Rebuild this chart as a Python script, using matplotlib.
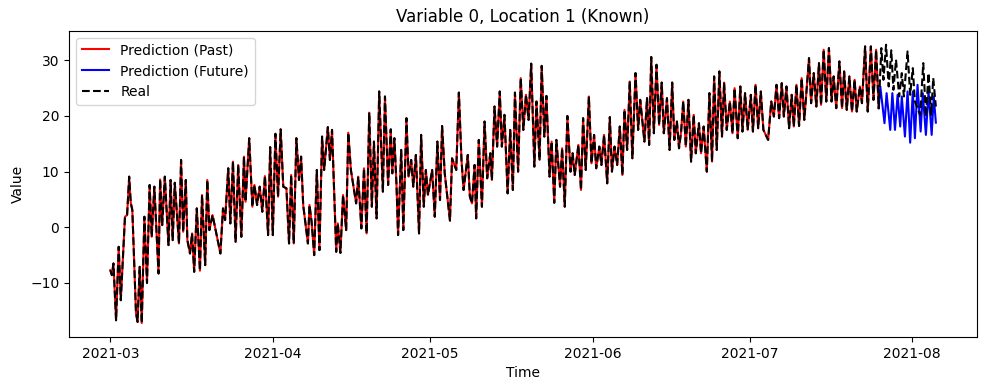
import numpy as np
import pandas as pd
import matplotlib
matplotlib.use("Agg")
import matplotlib.pyplot as plt

start_date = "2021-03-01"

# Real series: time offsets (days since start) and values
real_days = [
    0.0, 0.3, 0.6, 1.1, 1.6, 2.0, 2.8, 3.2, 3.6, 3.9, 4.2, 4.9, 5.2, 5.6, 6.0, 6.5, 7.0, 7.5, 7.9, 8.4,
    9.2, 9.5, 9.9, 10.4, 11.1, 11.5, 11.9, 12.3, 13.1, 13.5, 13.9, 14.4, 14.7, 15.2, 15.6, 16.0, 16.5, 17.1, 17.5, 18.1,
    18.5, 18.9, 19.5, 19.9, 21.0, 21.5, 21.9, 22.5, 22.9, 23.4, 23.9, 24.4, 25.0, 25.5, 25.8, 26.5, 27.1, 27.5, 28.0, 28.5,
    29.0, 29.5, 30.1, 30.5, 31.0, 31.5, 32.0, 32.5, 33.0, 33.6, 34.1, 34.5, 35.0, 35.5, 36.0, 36.4, 36.8, 37.7, 38.0, 38.4,
    38.9, 39.4, 39.9, 40.4, 40.8, 41.5, 41.9, 42.3, 43.1, 43.4, 43.9, 44.4, 45.0, 45.4, 45.9, 46.9, 47.3, 47.9, 48.4, 48.9,
    49.4, 49.9, 50.3, 50.8, 51.3, 52.0, 52.4, 53.0, 53.5, 53.8, 54.2, 54.6, 54.9, 55.5, 55.9, 56.5, 56.9, 57.4, 57.8, 58.3,
    58.9, 59.3, 59.8, 60.2, 60.6, 61.4, 61.9, 62.4, 62.9, 63.3, 63.8, 64.8, 65.2, 66.0, 66.5, 67.0, 67.4, 68.2, 68.6, 69.0,
    69.5, 69.8, 70.3, 70.9, 71.4, 71.9, 72.5, 72.8, 73.3, 73.8, 74.3, 74.7, 75.2, 75.8, 76.3, 76.8, 77.2, 77.8, 78.3, 78.8,
    79.3, 79.8, 80.3, 80.9, 81.3, 81.9, 82.3, 82.8, 83.2, 83.8, 84.2, 84.7, 85.1, 85.8, 86.2, 86.7, 87.2, 87.8, 88.2, 88.6,
    89.3, 89.8, 90.2, 90.7, 91.3, 91.8, 92.3, 92.7, 93.3, 93.7, 94.2, 94.8, 95.3, 95.7, 96.2, 96.7, 97.2, 97.7, 98.1, 98.6,
    99.1, 99.6, 100.2, 100.7, 101.1, 101.9, 102.4, 102.8, 103.2, 103.7, 104.2, 104.7, 105.2, 105.6, 106.2, 106.7, 107.2, 107.6, 108.1, 108.5,
    108.9, 109.3, 109.8, 110.3, 110.8, 111.3, 111.7, 112.3, 112.7, 113.2, 113.8, 114.3, 114.8, 115.2, 115.7, 116.2, 116.7, 117.1, 117.6, 118.2,
    118.7, 119.1, 119.7, 120.2, 120.6, 121.1, 121.6, 122.2, 122.6, 123.1, 123.6, 124.1, 124.6, 125.5, 126.1, 126.6, 127.1, 127.6, 128.1, 128.5,
    129.0, 129.5, 130.0, 130.4, 130.9, 131.4, 131.9, 132.4, 133.3, 133.7, 134.2, 134.7, 135.2, 135.6, 136.1, 136.6, 137.1, 137.6, 138.0, 138.5,
    139.1, 139.6, 140.0, 140.5, 141.0, 141.5, 142.0, 142.4, 143.0, 143.4, 144.0, 144.5, 145.1, 145.6, 146.1, 146.6,
    147.1, 147.5, 148.0, 148.5, 149.0, 149.4, 149.9, 150.5, 151.0, 151.4, 152.1, 152.6, 153.1, 153.5, 154.5, 155.1, 155.6, 156.1, 156.6, 157.0, 157.5,
]
real_values = [
    -7.7, -8.6, -6.5, -16.7, -3.5, -13.1, 1.9, 2.2, 9.1, 4.4, 3.1, -15.4, -17.0, -7.1, -17.2, 1.9, -10.0, 7.6, -1.7, 7.3,
    -8.3, 8.6, 0.4, 9.1, -3.2, 8.5, -2.3, 8.0, -2.9, 12.1, -0.8, 8.5, -2.3, -4.7, -1.1, -8.0, 3.4, -7.8, 5.8, -6.8,
    8.5, -0.5, 2.2, 0.4, -4.7, 3.4, 1.3, 10.6, 0.7, 11.8, -2.6, 11.2, -1.7, 12.7, 4.6, 16.0, 3.7, 7.6, 4.0, 7.3,
    2.8, 9.2, -1.4, 14.4, -1.4, 16.8, 5.5, 17.6, 7.3, 7.0, -2.9, 9.4, -2.9, 16.0, 8.5, 12.7, 4.0, -2.9, 4.0, 1.0,
    -5.0, 10.3, -4.1, 16.3, 10.3, 18.0, 12.1, 17.5, -4.4, 0.7, -4.6, 5.8, -0.5, 17.0, 10.3, 4.3, 9.1, -0.2, 10.6, -1.1,
    20.6, 3.7, 15.4, 1.6, 24.4, 6.4, 23.5, 7.6, 17.6, 9.7, 16.0, 7.6, -1.4, 13.9, -0.5, 19.6, 9.1, 12.1, 7.3, 13.0,
    -1.1, 16.6, 3.7, 10.3, 5.8, 10.3, 1.9, 15.4, 4.9, 18.2, 9.7, 1.2, 12.4, 10.3, 24.2, 12.1, 6.7, 13.0, 5.5, 4.3,
    11.2, 1.6, 15.7, 3.7, 19.0, 8.8, 13.3, 8.5, 21.7, 14.5, 24.4, 14.5, 20.2, 6.1, 17.5, 6.7, 24.2, 10.0, 26.8, 17.5,
    23.8, 19.3, 29.4, 10.9, 22.6, 12.1, 29.0, 16.3, 23.6, 9.1, 15.4, 4.4, 15.7, 7.3, 14.2, 3.7, 20.0, 10.0, 13.3, 9.4,
    14.8, 6.7, 19.6, 10.3, 23.5, 11.5, 16.6, 10.6, 14.5, 11.2, 16.6, 7.9, 19.8, 10.0, 14.5, 11.2, 18.1, 9.4, 21.1, 13.9,
    26.2, 12.4, 27.7, 17.5, 22.9, 15.4, 23.2, 14.8, 30.6, 16.9, 29.2, 18.4, 26.0, 16.9, 23.2, 13.9, 26.0, 15.7, 19.0, 14.2,
    17.2, 22.6, 14.5, 22.9, 11.8, 20.2, 13.3, 18.7, 13.3, 18.1, 10.0, 24.1, 11.8, 27.1, 13.9, 28.0, 16.3, 26.0, 17.5, 22.6,
    16.9, 25.0, 16.0, 25.3, 17.2, 24.1, 17.5, 23.8, 17.2, 25.6, 17.8, 24.4, 17.5, 15.7, 22.6, 19.9, 25.6, 19.6, 25.9, 19.9,
    25.3, 17.8, 23.8, 18.1, 25.6, 18.2, 26.8, 19.3, 30.4, 22.3, 27.7, 21.7, 29.5, 22.0, 31.9, 22.6, 32.2, 22.6, 27.1, 21.4,
    29.8, 21.4, 28.0, 21.1, 27.1, 20.8, 26.5, 20.8, 25.3, 22.3, 32.5, 20.8, 32.5, 22.9, 31.9, 21.4,
    32.2, 26.5, 32.8, 25.3, 31.8, 24.7, 30.1, 23.5, 27.7, 23.5, 31.6, 23.8, 28.6, 22.6, 20.2, 29.5, 19.9, 27.7, 20.2, 26.8, 21.7,
]

# Forecast start (days since start); the past prediction follows the real series up to here
forecast_start_day = 146.6

# Future prediction: time offsets and values
future_days = [
    146.6, 146.9, 147.7, 148.1, 148.8, 149.2, 149.7, 150.2, 150.7, 151.0, 151.6, 152.1,
    152.6, 153.1, 153.5, 154.0, 154.6, 155.0, 155.6, 156.1, 156.7, 157.1, 157.5,
]
future_values = [
    21.4, 25.3, 18.7, 24.1, 17.5, 24.1, 17.5, 23.8, 18.1, 23.5, 16.3, 24.4,
    15.2, 24.4, 16.0, 25.6, 17.2, 24.1, 16.6, 24.4, 16.6, 23.5, 18.8,
]

base = pd.Timestamp(start_date)
real_t = base + pd.to_timedelta(np.array(real_days), unit="D")
real_v = np.array(real_values)
past_mask = np.array(real_days) <= forecast_start_day
past_t = real_t[past_mask]
past_v = real_v[past_mask]
fut_t = base + pd.to_timedelta(np.array(future_days), unit="D")
fut_v = np.array(future_values)

fig, ax = plt.subplots(figsize=(9.89, 3.9), dpi=100)
ax.plot(past_t, past_v, color="red", linewidth=1.5, label="Prediction (Past)")
ax.plot(fut_t, fut_v, color="blue", linewidth=1.5, label="Prediction (Future)")
ax.plot(real_t, real_v, color="black", linestyle="--", linewidth=1.5, label="Real")

ax.set_title("Variable 0, Location 1 (Known)")
ax.set_xlabel("Time")
ax.set_ylabel("Value")
ax.legend(loc="upper left")
fig.subplots_adjust(left=0.0698, right=0.988, top=0.921, bottom=0.136)
fig.savefig("out.png", dpi=100)
